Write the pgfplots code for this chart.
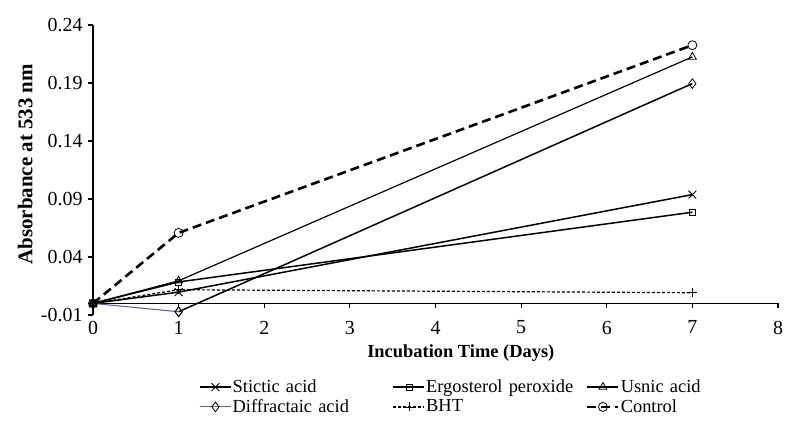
\documentclass[border=0pt]{standalone}
\usepackage{pgfplots}
\pgfplotsset{compat=1.18}
\usepackage{fontspec}
\setmainfont{Liberation Serif}
\definecolor{diffpurple}{RGB}{112,90,160}
\begin{document}
\begin{tikzpicture}
\useasboundingbox (-93bp,-107bp) rectangle (698bp,315bp);
\begin{axis}[
  at={(0,0)}, anchor=south west,
  scale only axis, width=685bp, height=290bp,
  xmin=0, xmax=8, ymin=-0.01, ymax=0.24,
  axis x line=middle, axis y line=left,
  hide obscured x ticks=false, hide obscured y ticks=false,
  axis line style={-, line width=1.8bp},
  xtick={0,1,2,3,4,5,6,7,8},
  ytick={-0.01,0.04,0.09,0.14,0.19,0.24},
  yticklabels={-0.01,0.04,0.09,0.14,0.19,0.24},
  tick align=outside, major tick length=5bp,
  tick style={line width=1.2bp, black},
  /pgf/number format/assume math mode=true,
  ticklabel style={font=\fontsize{20}{22}\selectfont},
  xticklabel style={anchor=north, yshift=-9bp},
  yticklabel style={anchor=east, xshift=-2bp},
  xlabel={\textbf{Incubation Time (Days)}},
  ylabel={\textbf{Absorbance at 533 nm}},
  every axis x label/.style={at={(axis description cs:0.537,-0.131)}, anchor=center, font=\fontsize{18.5}{21}\selectfont},
  every axis y label/.style={at={(axis description cs:-0.099,0.52)}, rotate=90, anchor=center, font=\fontsize{21}{23}\selectfont},
  clip=false,
  legend columns=3,
  legend cell align=left,
  legend image code/.code={\draw[mark repeat=2,mark phase=2,#1] plot coordinates {(0bp,0bp) (15.5bp,0bp) (31bp,0bp)};},
  legend style={at={(axis description cs:0.1547,-0.218)}, anchor=north west, draw=none, fill=none,
    inner sep=0pt, row sep=2.5bp, column sep=0pt,
    font=\fontsize{18.5}{21}\selectfont,
    nodes={inner sep=1bp, text depth=0.25em},
    /tikz/every even column/.append style={text width=159bp}},
]
\addplot[black, line width=1.5bp, mark=x, mark size=5.5bp, mark options={solid, line width=0.9bp}]
  coordinates {(0,0) (1,0.0097) (7,0.0938)};
\addlegendentry{Stictic acid}
\addplot[black, line width=1.5bp, mark=square, mark size=3bp, mark options={solid, line width=0.8bp, fill=white}]
  coordinates {(0,0) (1,0.0185) (7,0.0786)};
\addlegendentry{Ergosterol peroxide}
\addplot[black, line width=1.2bp, mark=triangle, mark size=4.5bp, mark options={solid, line width=0.8bp, fill=white}]
  coordinates {(0,0) (1,0.0195) (7,0.2125)};
\addlegendentry{Usnic acid}
\addplot[diffpurple, line width=1.1bp, mark=diamond, mark size=4.8bp, mark options={solid, draw=black, line width=0.8bp, fill=white}]
  coordinates {(0,0) (1,-0.0072)};
\addlegendentry{Diffractaic acid}
\addplot[black, line width=1.5bp, mark=diamond, mark size=4.8bp, mark options={solid, draw=black, line width=0.8bp, fill=white}, forget plot]
  coordinates {(1,-0.0072) (7,0.1895)};
\addplot[black, line width=1.2bp, dash pattern=on 3bp off 2bp, mark=+, mark size=4.5bp, mark options={solid, line width=0.8bp}]
  coordinates {(0,0) (1,0.0118) (7,0.0092)};
\addlegendentry{BHT}
\addplot[black, line width=2.6bp, dash pattern=on 9bp off 5bp, mark=o, mark size=4.5bp, mark options={solid, line width=0.8bp, fill=white}]
  coordinates {(0,0) (1,0.0608) (7,0.2226)};
\addlegendentry{Control}
\end{axis}
\end{tikzpicture}
\end{document}
